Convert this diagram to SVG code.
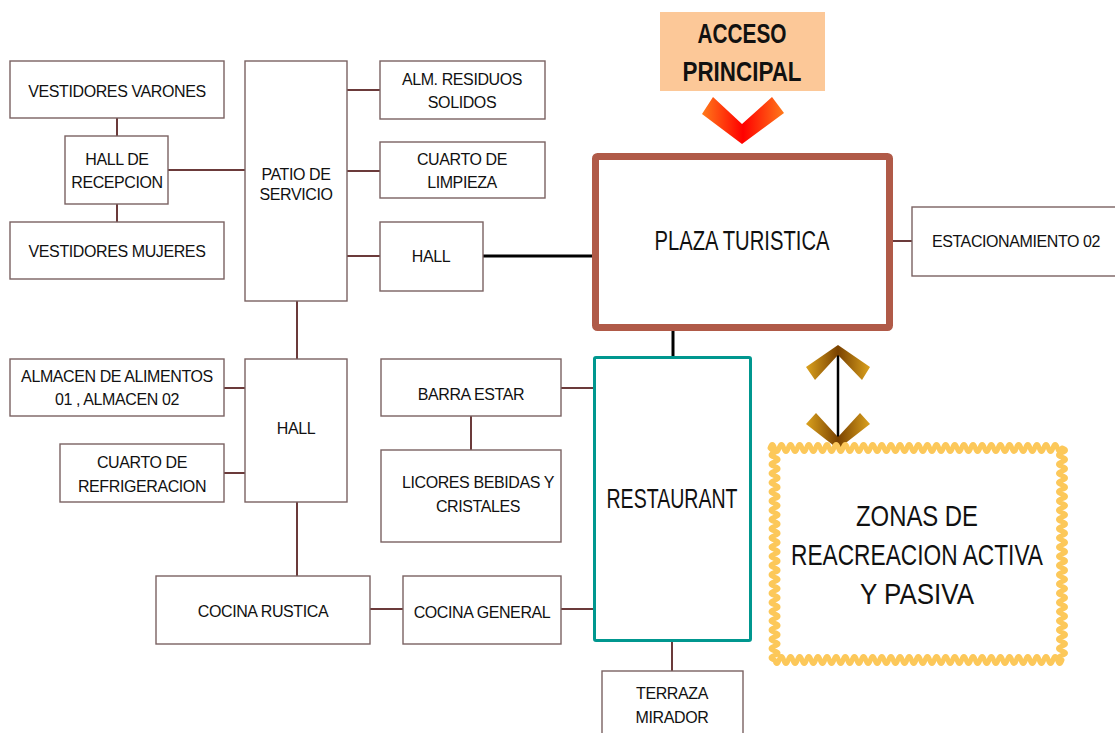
<svg xmlns="http://www.w3.org/2000/svg" width="1115" height="733" viewBox="0 0 1115 733">
<style>
.box{fill:#fff;stroke:#7a6262;stroke-width:1.4}
.con{stroke:#6b3a3a;stroke-width:2;fill:none}
.blk{stroke:#000;stroke-width:3;fill:none}
text{font-family:"Liberation Sans","DejaVu Sans",Arial,sans-serif;fill:#111;text-anchor:middle}
.s{font-size:16px;letter-spacing:-0.4px}
.l{font-size:27px}
</style>
<defs>
<linearGradient id="red" x1="0" y1="0" x2="1" y2="0">
<stop offset="0" stop-color="#ff7a1a"/><stop offset="0.5" stop-color="#ff0000"/><stop offset="1" stop-color="#ff7a1a"/>
</linearGradient>
<linearGradient id="brn" x1="0" y1="0" x2="1" y2="0">
<stop offset="0" stop-color="#dba21e"/><stop offset="0.5" stop-color="#7a4200"/><stop offset="1" stop-color="#dba21e"/>
</linearGradient>
</defs>
<rect width="1115" height="733" fill="#fff"/>

<g id="connectors">
<line class="con" x1="117" y1="118" x2="117" y2="136"/>
<line class="con" x1="117" y1="204" x2="117" y2="222"/>
<line class="con" x1="168" y1="170" x2="245" y2="170"/>
<line class="con" x1="347" y1="90" x2="380" y2="90"/>
<line class="con" x1="347" y1="171" x2="380" y2="171"/>
<line class="con" x1="347" y1="256" x2="380" y2="256"/>
<line class="blk" x1="483" y1="256" x2="593" y2="256"/>
<line class="con" x1="893" y1="241" x2="912" y2="241"/>
<line class="blk" x1="673" y1="331" x2="673" y2="356"/>
<line class="con" x1="297" y1="301" x2="297" y2="359"/>
<line class="con" x1="224" y1="388" x2="245" y2="388"/>
<line class="con" x1="224" y1="473" x2="245" y2="473"/>
<line class="con" x1="297" y1="502" x2="297" y2="576"/>
<line class="con" x1="561" y1="388" x2="594" y2="388"/>
<line class="con" x1="471" y1="416" x2="471" y2="450"/>
<line class="con" x1="370" y1="609" x2="403" y2="609"/>
<line class="con" x1="561" y1="609" x2="594" y2="609"/>
<line class="con" x1="672" y1="642" x2="672" y2="671"/>
<line x1="838" y1="352" x2="838" y2="442" stroke="#000" stroke-width="2.5"/>
</g>

<g id="acceso">
<rect x="660" y="12" width="165" height="79" fill="#fcc898"/>
<text x="742" y="43" font-size="27" font-weight="bold" textLength="89" lengthAdjust="spacingAndGlyphs">ACCESO</text>
<text x="742" y="81" font-size="27" font-weight="bold" textLength="119" lengthAdjust="spacingAndGlyphs">PRINCIPAL</text>
</g>
<g id="arrow-acceso">
<polygon points="713,97 742,124 772,97 784,113 742,144 702,114" fill="url(#red)"/>
</g>

<g id="vestidores-varones"><rect class="box" x="10" y="61" width="214" height="57"/><text class="s" x="117" y="97">VESTIDORES VARONES</text></g>
<g id="hall-recepcion"><rect class="box" x="65" y="136" width="103" height="68"/><text class="s" x="117" y="165">HALL DE</text><text class="s" x="117" y="188">RECEPCION</text></g>
<g id="vestidores-mujeres"><rect class="box" x="10" y="222" width="214" height="57"/><text class="s" x="117" y="257">VESTIDORES MUJERES</text></g>
<g id="patio-servicio"><rect class="box" x="245" y="61" width="102" height="240"/><text class="s" x="296" y="180">PATIO DE</text><text class="s" x="296" y="200">SERVICIO</text></g>
<g id="alm-residuos"><rect class="box" x="380" y="61" width="165" height="58"/><text class="s" x="462" y="85">ALM. RESIDUOS</text><text class="s" x="462" y="108">SOLIDOS</text></g>
<g id="cuarto-limpieza"><rect class="box" x="380" y="142" width="165" height="56"/><text class="s" x="462" y="165">CUARTO DE</text><text class="s" x="462" y="188">LIMPIEZA</text></g>
<g id="hall-top"><rect class="box" x="380" y="222" width="103" height="69"/><text class="s" x="431" y="262">HALL</text></g>

<g id="plaza-turistica">
<rect x="595.5" y="156.5" width="294" height="171" rx="2" fill="#fff" stroke="#b05a48" stroke-width="7"/>
<text class="l" x="742" y="250" textLength="175" lengthAdjust="spacingAndGlyphs">PLAZA TURISTICA</text>
</g>
<g id="estacionamiento"><rect class="box" x="912" y="207" width="210" height="69"/><text class="s" x="1016" y="247">ESTACIONAMIENTO 02</text></g>

<g id="restaurant">
<rect x="594.5" y="357.5" width="156" height="283" rx="1.5" fill="#fff" stroke="#00978f" stroke-width="3"/>
<text class="l" x="672" y="508" textLength="131" lengthAdjust="spacingAndGlyphs">RESTAURANT</text>
</g>
<g id="terraza"><rect class="box" x="602" y="671" width="141" height="70"/><text class="s" x="672" y="699">TERRAZA</text><text class="s" x="672" y="723">MIRADOR</text></g>

<g id="almacen-alimentos"><rect class="box" x="10" y="359" width="214" height="57"/><text class="s" x="117" y="382">ALMACEN DE ALIMENTOS</text><text class="s" x="117" y="405">01 , ALMACEN 02</text></g>
<g id="hall-lower"><rect class="box" x="245" y="359" width="102" height="143"/><text class="s" x="296" y="434">HALL</text></g>
<g id="cuarto-refrigeracion"><rect class="box" x="60" y="444" width="164" height="58"/><text class="s" x="142" y="468">CUARTO DE</text><text class="s" x="142" y="492">REFRIGERACION</text></g>
<g id="cocina-rustica"><rect class="box" x="156" y="576" width="214" height="68"/><text class="s" x="263" y="617">COCINA RUSTICA</text></g>
<g id="barra-estar"><rect class="box" x="381" y="359" width="180" height="57"/><text class="s" x="471" y="400">BARRA ESTAR</text></g>
<g id="licores"><rect class="box" x="381" y="450" width="180" height="92"/><text class="s" x="478" y="488">LICORES BEBIDAS Y</text><text class="s" x="478" y="512">CRISTALES</text></g>
<g id="cocina-general"><rect class="box" x="403" y="576" width="158" height="68"/><text class="s" x="482" y="618">COCINA GENERAL</text></g>

<g id="arrow-zonas">
<polygon points="838,345 870,367 862,380 838,355 815,380 806,367" fill="url(#brn)"/>
<polygon points="816,413 838,437 860,413 870,424 838,449 806,424" fill="url(#brn)"/>
</g>

<g id="zonas">
<path fill="#fff" stroke="#fcc85a" stroke-width="5" stroke-linejoin="round" d="M770,448 q2.28,-7 4.5625,0 t4.5625,0 t4.5625,0 t4.5625,0 t4.5625,0 t4.5625,0 t4.5625,0 t4.5625,0 t4.5625,0 t4.5625,0 t4.5625,0 t4.5625,0 t4.5625,0 t4.5625,0 t4.5625,0 t4.5625,0 t4.5625,0 t4.5625,0 t4.5625,0 t4.5625,0 t4.5625,0 t4.5625,0 t4.5625,0 t4.5625,0 t4.5625,0 t4.5625,0 t4.5625,0 t4.5625,0 t4.5625,0 t4.5625,0 t4.5625,0 t4.5625,0 t4.5625,0 t4.5625,0 t4.5625,0 t4.5625,0 t4.5625,0 t4.5625,0 t4.5625,0 t4.5625,0 t4.5625,0 t4.5625,0 t4.5625,0 t4.5625,0 t4.5625,0 t4.5625,0 t4.5625,0 t4.5625,0 t4.5625,0 t4.5625,0 t4.5625,0 t4.5625,0 t4.5625,0 t4.5625,0 t4.5625,0 t4.5625,0 t4.5625,0 t4.5625,0 t4.5625,0 t4.5625,0 t4.5625,0 t4.5625,0 t4.5625,0 t4.5625,0
q7,2.3 0,4.6087 t0,4.6087 t0,4.6087 t0,4.6087 t0,4.6087 t0,4.6087 t0,4.6087 t0,4.6087 t0,4.6087 t0,4.6087 t0,4.6087 t0,4.6087 t0,4.6087 t0,4.6087 t0,4.6087 t0,4.6087 t0,4.6087 t0,4.6087 t0,4.6087 t0,4.6087 t0,4.6087 t0,4.6087 t0,4.6087 t0,4.6087 t0,4.6087 t0,4.6087 t0,4.6087 t0,4.6087 t0,4.6087 t0,4.6087 t0,4.6087 t0,4.6087 t0,4.6087 t0,4.6087 t0,4.6087 t0,4.6087 t0,4.6087 t0,4.6087 t0,4.6087 t0,4.6087 t0,4.6087 t0,4.6087 t0,4.6087 t0,4.6087 t0,4.6087 t0,4.6087
q-2.28,7 -4.5625,0 t-4.5625,0 t-4.5625,0 t-4.5625,0 t-4.5625,0 t-4.5625,0 t-4.5625,0 t-4.5625,0 t-4.5625,0 t-4.5625,0 t-4.5625,0 t-4.5625,0 t-4.5625,0 t-4.5625,0 t-4.5625,0 t-4.5625,0 t-4.5625,0 t-4.5625,0 t-4.5625,0 t-4.5625,0 t-4.5625,0 t-4.5625,0 t-4.5625,0 t-4.5625,0 t-4.5625,0 t-4.5625,0 t-4.5625,0 t-4.5625,0 t-4.5625,0 t-4.5625,0 t-4.5625,0 t-4.5625,0 t-4.5625,0 t-4.5625,0 t-4.5625,0 t-4.5625,0 t-4.5625,0 t-4.5625,0 t-4.5625,0 t-4.5625,0 t-4.5625,0 t-4.5625,0 t-4.5625,0 t-4.5625,0 t-4.5625,0 t-4.5625,0 t-4.5625,0 t-4.5625,0 t-4.5625,0 t-4.5625,0 t-4.5625,0 t-4.5625,0 t-4.5625,0 t-4.5625,0 t-4.5625,0 t-4.5625,0 t-4.5625,0 t-4.5625,0 t-4.5625,0 t-4.5625,0 t-4.5625,0 t-4.5625,0 t-4.5625,0
q-7,-2.3 0,-4.6087 t0,-4.6087 t0,-4.6087 t0,-4.6087 t0,-4.6087 t0,-4.6087 t0,-4.6087 t0,-4.6087 t0,-4.6087 t0,-4.6087 t0,-4.6087 t0,-4.6087 t0,-4.6087 t0,-4.6087 t0,-4.6087 t0,-4.6087 t0,-4.6087 t0,-4.6087 t0,-4.6087 t0,-4.6087 t0,-4.6087 t0,-4.6087 t0,-4.6087 t0,-4.6087 t0,-4.6087 t0,-4.6087 t0,-4.6087 t0,-4.6087 t0,-4.6087 t0,-4.6087 t0,-4.6087 t0,-4.6087 t0,-4.6087 t0,-4.6087 t0,-4.6087 t0,-4.6087 t0,-4.6087 t0,-4.6087 t0,-4.6087 t0,-4.6087 t0,-4.6087 t0,-4.6087 t0,-4.6087 t0,-4.6087 t0,-4.6087 Z"/>
<text x="917" y="526" font-size="29" textLength="122" lengthAdjust="spacingAndGlyphs">ZONAS DE</text>
<text x="917" y="565" font-size="29" textLength="252" lengthAdjust="spacingAndGlyphs">REACREACION ACTIVA</text>
<text x="917" y="604" font-size="29" textLength="114" lengthAdjust="spacingAndGlyphs">Y PASIVA</text>
</g>
</svg>
